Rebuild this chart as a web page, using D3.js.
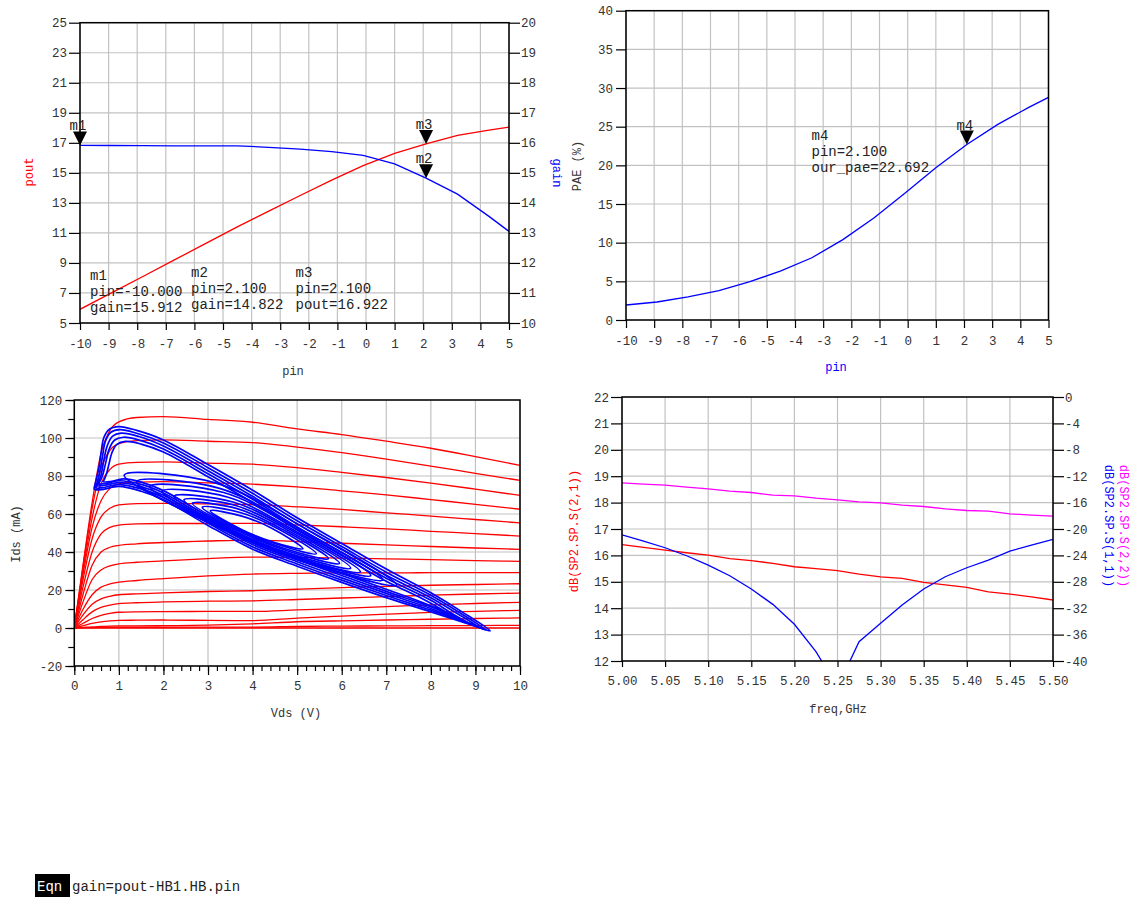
<!DOCTYPE html>
<html>
<head>
<meta charset="utf-8">
<script src="https://cdn.jsdelivr.net/npm/d3@7"></script>
<style>
  body { margin: 0; background: #ffffff; }
</style>
</head>
<body>
<div id="canvas"></div>
<script>
// ////////// DATA /////////////

// power sweep (HB)
var pin = [-10, -8.9, -7.8, -6.7, -5.6, -4.5, -3.4, -2.3, -1.2, -0.1, 1.0, 2.1, 3.2, 4.3, 5.0];
var pout = [5.912, 7.01, 8.1, 9.2, 10.3, 11.4, 12.45, 13.49, 14.51, 15.48, 16.3, 16.922, 17.49, 17.85, 18.05];
var gain = [15.912, 15.91, 15.905, 15.9, 15.9, 15.9, 15.85, 15.79, 15.71, 15.58, 15.3, 14.822, 14.29, 13.55, 13.05];
var pae = [1.94, 2.33, 3.0, 3.8, 4.95, 6.35, 8.05, 10.4, 13.2, 16.4, 19.7, 22.692, 25.3, 27.5, 28.8];

// tick labels
var pinTicks = [-10, -9, -8, -7, -6, -5, -4, -3, -2, -1, 0, 1, 2, 3, 4, 5];
var poutTicks = [5, 7, 9, 11, 13, 15, 17, 19, 21, 23, 25];
var gainTicks = [10, 11, 12, 13, 14, 15, 16, 17, 18, 19, 20];
var paeTicks = [0, 5, 10, 15, 20, 25, 30, 35, 40];
var vdsTicks = [0, 1, 2, 3, 4, 5, 6, 7, 8, 9, 10];
var idsTicks = [-20, 0, 20, 40, 60, 80, 100, 120];
var freqTicks = [5.00, 5.05, 5.10, 5.15, 5.20, 5.25, 5.30, 5.35, 5.40, 5.45, 5.50];
var s21Ticks = [12, 13, 14, 15, 16, 17, 18, 19, 20, 21, 22];
var s11Ticks = [-40, -36, -32, -28, -24, -20, -16, -12, -8, -4, 0];

// markers
var markerNames = ["m1", "m2", "m3", "m4"];
var markerPin = [-10, 2.1, 2.1, 2.1];
var markerVal = [15.912, 14.822, 16.922, 22.692];
var markerText = [
  ["m1", "pin=-10.000", "gain=15.912"],
  ["m2", "pin=2.100", "gain=14.822"],
  ["m3", "pin=2.100", "pout=16.922"],
  ["m4", "pin=2.100", "our_pae=22.692"]
];

// DC IV curves: Ids (mA) vs Vds (V)
var vdsGrid = [0, 0.2, 0.4, 0.6, 0.8, 1.0, 1.4, 2, 3, 4, 5, 6, 7, 8, 9, 10];
var idsCurves = [
  [0, 34, 66, 92, 104, 108.5, 110.8, 111.2, 109.8, 108.3, 104.8, 101.8, 98.3, 94.6, 90.2, 85.6],
  [0, 33, 63, 84, 93.5, 97, 98.6, 99, 98.3, 97.6, 95.2, 92.3, 88.9, 85.2, 81.4, 77.7],
  [0, 31, 58, 76, 83.5, 86.3, 87.2, 87.4, 86.8, 86.2, 84.4, 81.9, 79.2, 76.3, 73.1, 69.8],
  [0, 29, 53, 67, 73.5, 76, 76.8, 77, 76.4, 75.7, 74.3, 72.2, 70.1, 67.6, 65.1, 62.5],
  [0, 26, 47, 58.5, 63, 64.8, 65.5, 65.6, 65.3, 65, 63.8, 62.4, 60.6, 58.9, 57.1, 55.3],
  [0, 22, 40, 49.5, 53, 54.2, 54.8, 55, 55, 55.1, 54.3, 53.3, 52.2, 50.9, 49.7, 48.4],
  [0, 18, 33, 40, 42.5, 43.5, 44.3, 45, 45.8, 46.3, 45.5, 44.6, 43.7, 42.9, 42.1, 41.4],
  [0, 14, 25.5, 30.5, 32.7, 33.8, 34.6, 35.3, 36.5, 37.3, 37.2, 36.8, 36.4, 36, 35.5, 35.1],
  [0, 10, 17.5, 21.5, 23.2, 24.1, 25, 26, 27.4, 28.4, 28.8, 29, 29, 29.1, 29.1, 29.1],
  [0, 7, 12.5, 15.3, 16.7, 17.5, 18, 18.5, 19.2, 19.6, 20.4, 21.2, 21.9, 22.5, 22.9, 23.3],
  [0, 4.5, 8.5, 10.8, 12, 12.8, 13.3, 13.7, 14.1, 14.3, 15, 15.8, 16.5, 17.3, 17.9, 18.4],
  [0, 2.5, 5, 6.7, 7.7, 8.3, 8.5, 8.6, 8.7, 8.7, 9.5, 10.3, 11.2, 12.2, 12.9, 13.5],
  [0, 1.2, 2.4, 3.2, 3.7, 4.0, 4.1, 4.2, 4.0, 3.9, 5.2, 6.3, 7.3, 8.2, 8.8, 9.3],
  [0, 0.3, 0.6, 0.8, 1.0, 1.1, 1.1, 1.2, 1.5, 2.2, 3.3, 3.8, 4.2, 4.6, 5.0, 5.3],
  [0, 0.1, 0.2, 0.3, 0.4, 0.4, 0.4, 0.4, 0.5, 0.5, 0.8, 1.0, 1.1, 1.2, 1.3, 1.4],
  [0, 0, 0, 0, 0, 0, 0, 0, 0, 0, 0, 0, 0, 0, 0, 0]
];

// dynamic load lines, [Vds, Ids] traced round each loop
var loadLoops = [
  [[3.05, 61.7], [3.74, 59.0], [4.44, 52.4], [5.13, 41.7], [4.44, 45.4], [3.74, 52.0]],
  [[2.87, 63.6], [3.72, 60.8], [4.58, 52.1], [5.43, 39.1], [4.58, 43.8], [3.72, 51.9]],
  [[2.65, 65.6], [3.67, 62.7], [4.68, 51.8], [5.70, 36.5], [4.68, 42.1], [3.67, 51.8]],
  [[2.46, 67.4], [3.62, 64.5], [4.79, 51.5], [5.95, 34.0], [4.79, 40.5], [3.62, 51.7]],
  [[2.24, 69.3], [3.56, 66.3], [4.88, 51.3], [6.20, 31.5], [4.88, 38.9], [3.56, 51.5]],
  [[1.97, 72.0], [3.45, 68.8], [4.94, 51.3], [6.42, 29.5], [4.94, 37.6], [3.45, 52.1]],
  [[1.70, 74.5], [3.35, 71.3], [5.00, 52.0], [6.65, 27.6], [5.00, 36.9], [3.35, 52.6]],
  [[1.40, 77.0], [3.24, 73.6], [5.09, 51.7], [6.93, 25.3], [5.09, 35.3], [3.24, 53.0]],
  [[1.12, 80.5], [3.16, 76.4], [5.19, 52.3], [7.23, 22.6], [5.19, 34.5], [3.16, 53.8]],
  [[8.75, 3], [8.3, 9], [7.8, 15.5], [7.0, 24.6], [6.0, 38.1], [5.0, 51.6], [4.0, 66.1], [3.0, 79.6], [2.0, 92.6], [1.5, 96.8], [1.15, 98.2], [0.95, 96.5], [0.84, 92], [0.78, 86.5], [0.72, 81], [0.66, 77.5], [0.64, 77], [0.8, 77], [1.1, 78.5], [1.5, 76.8], [2.0, 72.3], [3.0, 58.8], [4.0, 46.3], [5.0, 37.3], [6.0, 28.8], [7.0, 20.4], [7.8, 13.5], [8.4, 7.5]],
  [[8.95, 1.3], [8.5, 7.2], [8.0, 14.6], [7.0, 26.2], [6.0, 39.7], [5.0, 53.2], [4.0, 67.7], [3.0, 81.2], [2.0, 94.2], [1.5, 98.6], [1.1, 100.4], [0.9, 98.8], [0.78, 94], [0.7, 86.5], [0.63, 80], [0.56, 76.5], [0.54, 75.8], [0.7, 76], [1.0, 77.5], [1.5, 75.6], [2.0, 71.1], [3.0, 57.6], [4.0, 45.1], [5.0, 36.1], [6.0, 27.6], [7.0, 19.3], [8.0, 11.2], [8.6, 5.8]],
  [[9.1, 0.2], [8.6, 7.5], [8.0, 15.9], [7.0, 27.8], [6.0, 41.3], [5.0, 54.8], [4.0, 69.3], [3.0, 82.8], [2.0, 95.8], [1.45, 100.8], [1.05, 102.6], [0.86, 101], [0.74, 96], [0.66, 88], [0.6, 80.5], [0.52, 75.5], [0.5, 74.8], [0.66, 75], [1.0, 76.5], [1.5, 74.4], [2.0, 69.9], [3.0, 56.4], [4.0, 43.9], [5.0, 34.9], [6.0, 26.4], [7.0, 18.2], [8.0, 10.3], [8.8, 3.2]],
  [[9.22, -0.8], [8.65, 8], [8.0, 17.2], [7.0, 29.4], [6.0, 42.9], [5.0, 56.4], [4.0, 70.9], [3.0, 84.4], [2.0, 97.4], [1.4, 102.5], [1.02, 104.4], [0.82, 103], [0.7, 98.5], [0.63, 90], [0.57, 82], [0.5, 75.5], [0.48, 73.8], [0.62, 73.8], [1.0, 75.5], [1.5, 73.2], [2.0, 68.7], [3.0, 55.2], [4.0, 42.7], [5.0, 33.7], [6.0, 25.2], [7.0, 17.1], [8.0, 9.4], [8.9, 2]],
  [[9.33, -1.5], [8.7, 8.5], [8.0, 18.5], [7.0, 31], [6.0, 44.5], [5.0, 58], [4.0, 72.5], [3.0, 86], [2.0, 99], [1.4, 104], [1.0, 106], [0.78, 104.5], [0.66, 100], [0.6, 92], [0.55, 84], [0.47, 76], [0.45, 73], [0.6, 72.8], [1.0, 74.5], [1.5, 72], [2.0, 67.5], [3.0, 54], [4.0, 41.5], [5.0, 32.5], [6.0, 24], [7.0, 16], [8.0, 8.5], [9.0, 1]]
];

// S-parameters
var freq = [5.000, 5.025, 5.050, 5.075, 5.100, 5.125, 5.150, 5.175, 5.200, 5.225, 5.250, 5.275, 5.300, 5.325, 5.350, 5.375, 5.400, 5.425, 5.450, 5.475, 5.500];
var s21 = [16.41, 16.3, 16.2, 16.1, 16.01, 15.88, 15.8, 15.7, 15.57, 15.5, 15.42, 15.29, 15.19, 15.13, 14.98, 14.88, 14.79, 14.62, 14.53, 14.43, 14.31];
var s22 = [-13.01, -13.2, -13.36, -13.67, -13.92, -14.27, -14.47, -14.88, -14.98, -15.33, -15.58, -15.88, -16.04, -16.39, -16.59, -16.94, -17.2, -17.3, -17.7, -17.9, -18.05];
var s11 = [-20.88, -21.84, -22.84, -24.05, -25.47, -27.08, -29.1, -31.42, -34.44, -38.58, -44.0, -37.07, -34.29, -31.52, -29.1, -27.23, -25.87, -24.71, -23.35, -22.44, -21.58];


///////// GLOBAL VARS //////////

var FONT = '"Liberation Mono", "DejaVu Sans Mono", monospace';
var RED = "#ff0000", BLUE = "#0000ff", MAG = "#ff00ff";

var svg = d3.select("#canvas")
  .append("svg")
  .attr("width", 1133)
  .attr("height", 897)
  .style("background-color", "#ffffff");

var defs = svg.append("defs");

// scales
var xPin = d3.scaleLinear().domain([-10, 5]).range([80, 509]);
var yPout = d3.scaleLinear().domain([5, 25]).range([323, 22.7]);
var yGain = d3.scaleLinear().domain([10, 20]).range([323, 22.7]);

var xPin2 = d3.scaleLinear().domain([-10, 5]).range([626, 1048.5]);
var yPae = d3.scaleLinear().domain([0, 40]).range([320, 10.7]);

var xVds = d3.scaleLinear().domain([0, 10]).range([74.3, 520]);
var yIds = d3.scaleLinear().domain([-20, 120]).range([666, 400]);

var xFreq = d3.scaleLinear().domain([5.0, 5.5]).range([622, 1053]);
var yS21 = d3.scaleLinear().domain([12, 22]).range([661, 397]);
var yS11 = d3.scaleLinear().domain([-40, 0]).range([661, 397]);

var fmt = d => String(d);

// helpers
function grid(x, y, xt, yt) {
  var g = svg.append("g").attr("stroke", "#c2c2c2").attr("stroke-width", 1.2);
  g.selectAll(null).data(xt).join("line")
    .attr("x1", d => x(d)).attr("x2", d => x(d))
    .attr("y1", y.range()[0]).attr("y2", y.range()[1]);
  g.selectAll(null).data(yt).join("line")
    .attr("x1", x.range()[0]).attr("x2", x.range()[1])
    .attr("y1", d => y(d)).attr("y2", d => y(d));
}

function border(x, y) {
  svg.append("rect")
    .attr("x", x.range()[0]).attr("y", y.range()[1])
    .attr("width", x.range()[1] - x.range()[0])
    .attr("height", y.range()[0] - y.range()[1])
    .attr("fill", "none").attr("stroke", "#000").attr("stroke-width", 1.5);
}

function clip(id, x, y) {
  defs.append("clipPath").attr("id", id).append("rect")
    .attr("x", x.range()[0]).attr("y", y.range()[1])
    .attr("width", x.range()[1] - x.range()[0])
    .attr("height", y.range()[0] - y.range()[1]);
  return svg.append("g").attr("clip-path", `url(#${id})`);
}

function axis(gen, tx, ty) {
  var g = svg.append("g").attr("transform", `translate(${tx},${ty})`).call(gen);
  g.select(".domain").remove();
  g.attr("font-family", FONT).attr("font-size", 12.5).attr("color", "#000");
  g.selectAll("text").attr("fill", "#333");
  g.selectAll("line").attr("stroke-width", 1.2);
  return g;
}

function title(txt, x, y, rot, color) {
  svg.append("text")
    .attr("transform", `translate(${x},${y}) rotate(${rot})`)
    .attr("text-anchor", "middle")
    .attr("dominant-baseline", "central")
    .attr("font-family", FONT)
    .attr("font-size", 12)
    .attr("fill", color)
    .text(txt);
}

function marker(px, py, name) {
  svg.append("path")
    .attr("d", `M${px - 7},${py - 14} L${px + 7},${py - 14} L${px},${py} Z`)
    .attr("fill", "#000");
  svg.append("text")
    .attr("x", px - 2).attr("y", py - 15)
    .attr("text-anchor", "middle")
    .attr("font-family", FONT).attr("font-size", 14).attr("fill", "#222")
    .text(name);
}

function readout(lines, x, y) {
  svg.append("text")
    .attr("font-family", FONT).attr("font-size", 14).attr("fill", "#222")
    .selectAll("tspan").data(lines).join("tspan")
    .attr("x", x).attr("y", (d, i) => y + i * 16)
    .text(d => d);
}

var lineGen = d3.line().x(d => d[0]).y(d => d[1]);


/////// TOP LEFT: pout & gain vs pin ///////

grid(xPin, yPout, pinTicks, poutTicks);
var tl = clip("clipTL", xPin, yPout);

tl.append("path")
  .attr("d", lineGen(pin.map((p, i) => [xPin(p), yPout(pout[i])])))
  .attr("fill", "none").attr("stroke", RED).attr("stroke-width", 1.3);

tl.append("path")
  .attr("d", lineGen(pin.map((p, i) => [xPin(p), yGain(gain[i])])))
  .attr("fill", "none").attr("stroke", BLUE).attr("stroke-width", 1.3);

border(xPin, yPout);
axis(d3.axisLeft(yPout).tickValues(poutTicks).tickFormat(fmt).tickSize(11).tickPadding(2), 80, 0);
axis(d3.axisRight(yGain).tickValues(gainTicks).tickFormat(fmt).tickSize(11).tickPadding(1), 509, 0);
axis(d3.axisBottom(xPin).tickValues(pinTicks).tickFormat(fmt).tickSize(7).tickPadding(9), 0, 323);

title("pout", 30, 172, -90, RED);
title("gain", 556, 173, 90, BLUE);
title("pin", 293, 372, 0, "#333");

marker(xPin(markerPin[0]), yGain(markerVal[0]), markerNames[0]);
marker(xPin(markerPin[1]), yGain(markerVal[1]), markerNames[1]);
marker(xPin(markerPin[2]), yPout(markerVal[2]), markerNames[2]);

readout(markerText[0], 90, 280);
readout(markerText[1], 191, 277);
readout(markerText[2], 295.5, 277);


/////// TOP RIGHT: PAE vs pin ///////

grid(xPin2, yPae, pinTicks, paeTicks);
var tr = clip("clipTR", xPin2, yPae);

tr.append("path")
  .attr("d", lineGen(pin.map((p, i) => [xPin2(p), yPae(pae[i])])))
  .attr("fill", "none").attr("stroke", BLUE).attr("stroke-width", 1.3);

border(xPin2, yPae);
axis(d3.axisLeft(yPae).tickValues(paeTicks).tickFormat(fmt).tickSize(10).tickPadding(3), 626, 0);
axis(d3.axisBottom(xPin2).tickValues(pinTicks).tickFormat(fmt).tickSize(8).tickPadding(8), 0, 320);

title("PAE (%)", 578, 166, -90, "#333");
title("pin", 836, 368, 0, BLUE);

marker(xPin2(markerPin[3]), yPae(markerVal[3]), markerNames[3]);
readout(markerText[3], 811.5, 140);


/////// BOTTOM LEFT: IV curves + load lines ///////

grid(xVds, yIds, vdsTicks, idsTicks);
var bl = clip("clipBL", xVds, yIds);

var ivLine = d3.line()
  .x((d, i) => xVds(vdsGrid[i]))
  .y(d => yIds(d))
  .curve(d3.curveMonotoneX);

bl.selectAll(".iv")
  .data(idsCurves)
  .join("path")
  .attr("class", "iv")
  .attr("d", d => ivLine(d))
  .attr("fill", "none").attr("stroke", RED).attr("stroke-width", 1.3);

var loopLine = d3.line()
  .x(d => xVds(d[0]))
  .y(d => yIds(d[1]))
  .curve(d3.curveCatmullRomClosed.alpha(0.5));

bl.selectAll(".loop")
  .data(loadLoops)
  .join("path")
  .attr("class", "loop")
  .attr("d", d => loopLine(d))
  .attr("fill", "none").attr("stroke", BLUE).attr("stroke-width", 1.7);

border(xVds, yIds);
axis(d3.axisLeft(yIds).tickValues(yIds.ticks(14)).tickFormat("").tickSize(6), 74.3, 0);
axis(d3.axisLeft(yIds).tickValues(idsTicks).tickFormat(fmt).tickSize(9).tickPadding(3), 74.3, 0);
axis(d3.axisBottom(xVds).tickValues(xVds.ticks(50)).tickFormat("").tickSize(5), 0, 666);
axis(d3.axisBottom(xVds).tickValues(vdsTicks).tickFormat(fmt).tickSize(9).tickPadding(6), 0, 666);

title("Ids (mA)", 17, 534, -90, "#333");
title("Vds (V)", 296, 714, 0, "#333");


/////// BOTTOM RIGHT: S-parameters ///////

grid(xFreq, yS21, freqTicks, s21Ticks);
var br = clip("clipBR", xFreq, yS21);

br.append("path")
  .attr("d", lineGen(freq.map((f, i) => [xFreq(f), yS11(s22[i])])))
  .attr("fill", "none").attr("stroke", MAG).attr("stroke-width", 1.3);

br.append("path")
  .attr("d", lineGen(freq.map((f, i) => [xFreq(f), yS21(s21[i])])))
  .attr("fill", "none").attr("stroke", RED).attr("stroke-width", 1.3);

br.append("path")
  .attr("d", lineGen(freq.map((f, i) => [xFreq(f), yS11(s11[i])])))
  .attr("fill", "none").attr("stroke", BLUE).attr("stroke-width", 1.3);

border(xFreq, yS21);
axis(d3.axisLeft(yS21).tickValues(s21Ticks).tickFormat(fmt).tickSize(11).tickPadding(2), 622, 0);
axis(d3.axisRight(yS11).tickValues(s11Ticks).tickFormat(fmt).tickSize(11).tickPadding(1), 1053, 0);
axis(d3.axisBottom(xFreq).tickValues(freqTicks).tickFormat(d => d.toFixed(2)).tickSize(6).tickPadding(9), 0, 661);

title("dB(SP2.SP.S(2,1))", 575, 531, -90, RED);
title("dB(SP2.SP.S(1,1))", 1108, 526, 90, BLUE);
title("dB(SP2.SP.S(2,2))", 1123, 526, 90, MAG);
title("freq,GHz", 838, 710, 0, "#333");


/////// EQUATION ///////

svg.append("rect")
  .attr("x", 35).attr("y", 874)
  .attr("width", 35).attr("height", 30)
  .attr("fill", "#000");

svg.append("text")
  .attr("x", 37).attr("y", 891)
  .attr("font-family", FONT).attr("font-size", 14).attr("fill", "#fff")
  .text("Eqn");

svg.append("text")
  .attr("x", 72).attr("y", 891)
  .attr("font-family", FONT).attr("font-size", 14).attr("fill", "#222")
  .text("gain=pout-HB1.HB.pin");
</script>
</body>
</html>
